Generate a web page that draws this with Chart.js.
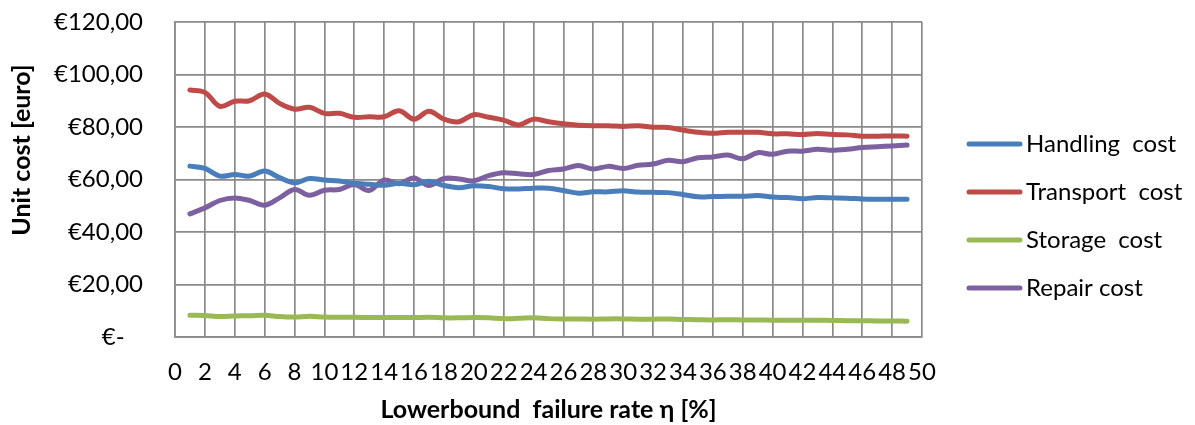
<!DOCTYPE html>
<html>
<head>
<meta charset="utf-8">
<script src="https://cdn.jsdelivr.net/npm/chart.js@4"></script>
<style>
  html, body { margin: 0; padding: 0; background: #fff; }
  #wrap { width: 1195px; height: 425px; }
</style>
</head>
<body>
<div id="wrap"><canvas id="chart" width="1195" height="425"></canvas></div>
<script>
// failure rate lower bound, percent
const failureRates = Array.from({ length: 49 }, (_, i) => i + 1);

const handlingCost = [
  65.1, 64.2, 61.3, 61.9, 61.3, 63.2, 60.7, 58.7, 60.4, 59.8,
  59.4, 58.6, 58.2, 57.8, 58.6, 58.0, 59.3, 57.7, 56.9, 57.6,
  57.3, 56.5, 56.4, 56.7, 56.7, 55.8, 54.8, 55.3, 55.3, 55.7,
  55.2, 55.1, 55.0, 54.3, 53.4, 53.5, 53.6, 53.6, 53.9, 53.3,
  53.1, 52.7, 53.1, 53.0, 52.9, 52.6, 52.5, 52.5, 52.5
];
const transportCost = [
  94.1, 93.2, 87.9, 89.8, 90.0, 92.6, 89.0, 86.8, 87.5, 85.2,
  85.2, 83.7, 83.9, 83.9, 86.2, 83.0, 86.0, 83.0, 82.0, 84.7,
  83.7, 82.6, 80.8, 83.0, 82.0, 81.2, 80.7, 80.5, 80.5, 80.2,
  80.5, 79.9, 79.8, 78.8, 78.0, 77.6, 78.0, 78.0, 78.0, 77.4,
  77.4, 77.1, 77.5, 77.1, 77.0, 76.5, 76.5, 76.6, 76.5
];
const storageCost = [
  8.3, 8.2, 7.8, 8.0, 8.1, 8.3, 7.8, 7.6, 7.9, 7.6,
  7.5, 7.5, 7.4, 7.4, 7.4, 7.4, 7.5, 7.3, 7.3, 7.4,
  7.3, 7.0, 7.1, 7.3, 7.0, 6.9, 6.9, 6.8, 6.9, 6.9,
  6.8, 6.8, 6.9, 6.7, 6.6, 6.5, 6.6, 6.5, 6.5, 6.4,
  6.4, 6.4, 6.4, 6.3, 6.2, 6.2, 6.1, 6.1, 6.0
];
const repairCost = [
  46.9, 49.2, 52.0, 53.0, 52.0, 50.2, 53.0, 56.2, 54.0, 55.9,
  56.2, 58.1, 55.8, 59.8, 58.4, 60.6, 57.7, 60.4, 60.2, 59.5,
  61.5, 62.6, 62.2, 61.9, 63.4, 64.0, 65.3, 64.0, 65.0, 64.2,
  65.4, 65.9, 67.3, 66.8, 68.3, 68.6, 69.3, 67.9, 70.2, 69.6,
  70.8, 70.8, 71.5, 71.1, 71.5, 72.2, 72.5, 72.8, 73.1
];

const seriesNames = ["Handling  cost", "Transport  cost", "Storage  cost", "Repair cost"];
const seriesColors = ["#4a7ebb", "#be4b48", "#98b954", "#7d60a0"];
const yTitle = "Unit cost [euro]";
const xTitle = "Lowerbound  failure rate \u03b7 [%]";

const FONT = "Lato";
Chart.defaults.font.family = FONT;
Chart.defaults.color = "#000";

const toPoints = values => values.map((v, i) => ({ x: failureRates[i], y: v }));

const datasets = [handlingCost, transportCost, storageCost, repairCost].map((values, i) => ({
  label: seriesNames[i],
  data: toPoints(values),
  borderColor: seriesColors[i],
  backgroundColor: seriesColors[i],
  borderWidth: 5,
  borderCapStyle: "round",
  pointRadius: 0,
  tension: 0.35,
  fill: false
}));

// legend and rotated y title, placed like the original spreadsheet chart
const sideText = {
  id: "sideText",
  afterDraw(chart) {
    const ctx = chart.ctx;
    ctx.save();
    chart.data.datasets.forEach((ds, i) => {
      const y = 144 + i * 48;
      ctx.strokeStyle = ds.borderColor;
      ctx.lineWidth = 5;
      ctx.lineCap = "round";
      ctx.beginPath();
      ctx.moveTo(969, y);
      ctx.lineTo(1020, y);
      ctx.stroke();
      ctx.fillStyle = "#000";
      ctx.font = "24px " + FONT;
      ctx.textAlign = "left";
      ctx.textBaseline = "middle";
      ctx.fillText(ds.label, 1026, y);
    });
    ctx.translate(22, 150);
    ctx.rotate(-Math.PI / 2);
    ctx.font = "bold 25px " + FONT;
    ctx.textAlign = "center";
    ctx.textBaseline = "middle";
    ctx.fillText(yTitle, 0, 0);
    ctx.restore();
  }
};

const gridColor = "#8a8a8a";

new Chart(document.getElementById("chart"), {
  type: "line",
  data: { datasets },
  options: {
    responsive: false,
    animation: false,
    layout: { padding: { left: 0, top: 22, right: 273, bottom: 0 } },
    plugins: {
      legend: { display: false },
      tooltip: { enabled: false }
    },
    scales: {
      x: {
        type: "linear",
        min: 0,
        max: 50,
        grid: { color: gridColor, lineWidth: 1.7, drawTicks: false },
        border: { color: gridColor, width: 1.7 },
        ticks: {
          stepSize: 2,
          autoSkip: false,
          maxRotation: 0,
          padding: 21,
          font: { size: 24 }
        },
        title: {
          display: true,
          text: xTitle,
          font: { size: 25, weight: "bold" },
          padding: { top: 0, bottom: 0 }
        },
        afterFit: scale => { scale.height = 88; }
      },
      y: {
        min: 0,
        max: 120,
        grid: { color: gridColor, lineWidth: 1.7, drawTicks: false },
        border: { color: gridColor, width: 1.7 },
        ticks: {
          stepSize: 20,
          padding: 32,
          font: { size: 24 },
          callback: value => value === 0 ? "\u20ac-   " : "\u20ac" + value.toFixed(2).replace(".", ",")
        },
        afterFit: scale => {
          scale.width = 175;
          scale.paddingTop = 0;
          scale.paddingBottom = 0;
        }
      }
    }
  },
  plugins: [sideText]
});
</script>
</body>
</html>
